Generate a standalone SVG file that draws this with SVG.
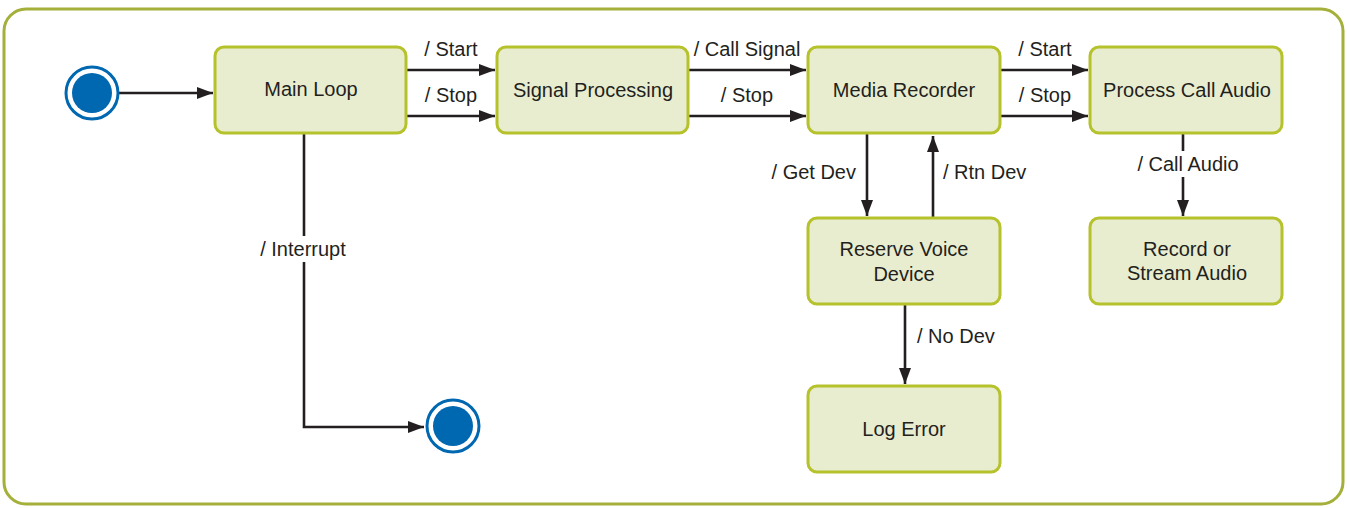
<svg xmlns="http://www.w3.org/2000/svg" width="1347" height="508" viewBox="0 0 1347 508">
<style>
.frame{fill:#fff;stroke:#a4b03a;stroke-width:3}
.node rect{fill:#e9edcf;stroke:#b6c22c;stroke-width:3}
.node text,.lbl{font-family:"Liberation Sans",Arial,sans-serif;font-size:20px;fill:#231f20}
.node text{text-anchor:middle}
.edge{fill:none;stroke:#231f20;stroke-width:2.6;marker-end:url(#arr)}
.ring{fill:#fff;stroke:#0067b1;stroke-width:3}
.dot{fill:#0067b1}
.bg{fill:#fff}
</style>
<defs>
<marker id="arr" viewBox="0 0 16 12" refX="16" refY="6" markerWidth="16" markerHeight="12" markerUnits="userSpaceOnUse" orient="auto">
<path d="M0,0 L16,6 L0,12 z" fill="#231f20"/>
</marker>
</defs>
<rect class="frame" x="4" y="9" width="1339" height="495" rx="22"/>

<g id="connectors">
<path class="edge" d="M119,93 H213"/>
<path class="edge" d="M407,70 H495"/>
<path class="edge" d="M407,116 H495"/>
<path class="edge" d="M689,70 H806"/>
<path class="edge" d="M689,116 H806"/>
<path class="edge" d="M1001,70 H1088"/>
<path class="edge" d="M1001,116 H1088"/>
<path class="edge" d="M304,134 V427 H424"/>
<path class="edge" d="M867,134 V216"/>
<path class="edge" d="M933,218 V136"/>
<path class="edge" d="M1183,134 V216"/>
<path class="edge" d="M905,305 V384"/>
<rect class="bg" x="254" y="236" width="100" height="26"/>
<rect class="bg" x="1138" y="151" width="100" height="26"/>
<text class="lbl" x="451" y="56" text-anchor="middle">/ Start</text>
<text class="lbl" x="451" y="102" text-anchor="middle">/ Stop</text>
<text class="lbl" x="747" y="56" text-anchor="middle">/ Call Signal</text>
<text class="lbl" x="747" y="102" text-anchor="middle">/ Stop</text>
<text class="lbl" x="1045" y="56" text-anchor="middle">/ Start</text>
<text class="lbl" x="1045" y="102" text-anchor="middle">/ Stop</text>
<text class="lbl" x="303" y="256" text-anchor="middle">/ Interrupt</text>
<text class="lbl" x="856" y="179" text-anchor="end">/ Get Dev</text>
<text class="lbl" x="943" y="179">/ Rtn Dev</text>
<text class="lbl" x="1188" y="171" text-anchor="middle">/ Call Audio</text>
<text class="lbl" x="917" y="343">/ No Dev</text>
</g>

<g id="start">
<circle class="ring" cx="92" cy="93" r="26"/>
<circle class="dot" cx="92" cy="93" r="20"/>
</g>
<g id="end">
<circle class="ring" cx="453" cy="426" r="26"/>
<circle class="dot" cx="453" cy="426" r="20"/>
</g>

<g id="main-loop" class="node">
<rect x="215" y="47" width="191" height="86" rx="9"/>
<text x="311" y="96">Main Loop</text>
</g>
<g id="signal-processing" class="node">
<rect x="497" y="47" width="191" height="86" rx="9"/>
<text x="593" y="97">Signal Processing</text>
</g>
<g id="media-recorder" class="node">
<rect x="808" y="47" width="192" height="86" rx="9"/>
<text x="904" y="97">Media Recorder</text>
</g>
<g id="process-call-audio" class="node">
<rect x="1090" y="47" width="192" height="86" rx="9"/>
<text x="1187" y="97">Process Call Audio</text>
</g>
<g id="reserve-voice-device" class="node">
<rect x="808" y="218" width="192" height="86" rx="9"/>
<text x="904" y="256">Reserve Voice</text>
<text x="904" y="281">Device</text>
</g>
<g id="record-stream-audio" class="node">
<rect x="1090" y="218" width="192" height="86" rx="9"/>
<text x="1187" y="256">Record or</text>
<text x="1187" y="280">Stream Audio</text>
</g>
<g id="log-error" class="node">
<rect x="808" y="386" width="192" height="86" rx="9"/>
<text x="904" y="436">Log Error</text>
</g>
</svg>
